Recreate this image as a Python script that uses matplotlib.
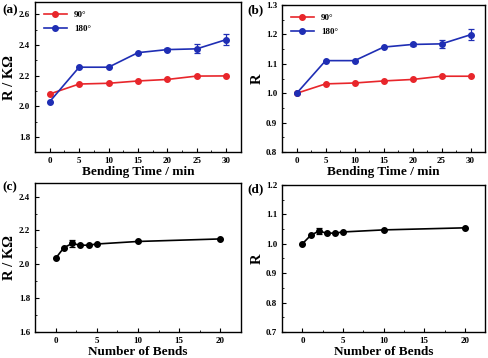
import matplotlib
matplotlib.use("Agg")
import matplotlib.pyplot as plt
from matplotlib.ticker import AutoMinorLocator

plt.rcParams['font.family'] = ['Liberation Serif', 'DejaVu Serif']
plt.rcParams['font.weight'] = 'bold'
plt.rcParams['axes.labelweight'] = 'bold'
plt.rcParams['axes.linewidth'] = 1.0

# bending time data
t = [0, 5, 10, 15, 20, 25, 30]
r90 = [2.08, 2.145, 2.15, 2.165, 2.175, 2.197, 2.198]
r180 = [2.03, 2.255, 2.255, 2.35, 2.37, 2.375, 2.435]
r180_err = [0, 0, 0, 0, 0.012, 0.03, 0.035]
n90 = [1.0, 1.032, 1.035, 1.042, 1.047, 1.058, 1.058]
n180 = [1.0, 1.111, 1.111, 1.157, 1.166, 1.168, 1.199]
n180_err = [0, 0, 0, 0, 0.006, 0.013, 0.018]

# number of bends data
bends = [0, 1, 2, 3, 4, 5, 10, 20]
rb = [2.035, 2.098, 2.123, 2.113, 2.113, 2.12, 2.135, 2.15]
rb_err = [0, 0, 0.02, 0, 0, 0, 0, 0]
nb = [1.0, 1.028, 1.043, 1.036, 1.036, 1.04, 1.047, 1.054]
nb_err = [0, 0, 0.01, 0, 0, 0, 0, 0]

red = '#e8262b'
blue = '#1f2eb4'

fig = plt.figure(figsize=(4.89, 3.58), dpi=100)
ax_a = fig.add_axes([0.0716, 0.575, 0.421, 0.419])
ax_b = fig.add_axes([0.577, 0.575, 0.415, 0.411])
ax_c = fig.add_axes([0.0716, 0.0726, 0.421, 0.416])
ax_d = fig.add_axes([0.577, 0.0726, 0.415, 0.411])


def style(ax):
    ax.tick_params(direction='in', labelsize=6.5, length=3, width=0.8)
    ax.tick_params(which='minor', direction='in', length=1.5, width=0.6)
    ax.xaxis.set_minor_locator(AutoMinorLocator(2))
    ax.yaxis.set_minor_locator(AutoMinorLocator(2))
    for lab in ax.get_xticklabels() + ax.get_yticklabels():
        lab.set_fontweight('bold')


def series(ax, x, y, err, color, label=None):
    if err is not None:
        ax.errorbar(x, y, yerr=err, fmt='none', ecolor=color, capsize=2,
                    elinewidth=0.9, capthick=0.9)
    ax.plot(x, y, color=color, lw=1.2, marker='o', ms=4,
            mfc=color, mec=color, label=label)


def labels(ax, xlabel, ylabel):
    ax.set_xlabel(xlabel, fontsize=9.5, labelpad=1)
    ax.set_ylabel(ylabel, fontsize=10.5, labelpad=2)


series(ax_a, t, r90, None, red, '90°')
series(ax_a, t, r180, r180_err, blue, '180°')
ax_a.set_xlim(-2.5, 32.5)
ax_a.set_ylim(1.7, 2.68)
ax_a.set_xticks(t)
ax_a.set_yticks([1.8, 2.0, 2.2, 2.4, 2.6])
labels(ax_a, 'Bending Time / min', 'R / KΩ')
ax_a.legend(loc='upper left', fontsize=6.5, frameon=False, handlelength=2.5,
            borderaxespad=0.6, labelspacing=0.6)

series(ax_b, t, n90, None, red, '90°')
series(ax_b, t, n180, n180_err, blue, '180°')
ax_b.set_xlim(-2.5, 32.5)
ax_b.set_ylim(0.8, 1.3)
ax_b.set_xticks(t)
ax_b.set_yticks([0.8, 0.9, 1.0, 1.1, 1.2, 1.3])
labels(ax_b, 'Bending Time / min', 'R')
ax_b.legend(loc='upper left', fontsize=6.5, frameon=False, handlelength=2.5,
            borderaxespad=0.6, labelspacing=0.6)

series(ax_c, bends, rb, rb_err, 'black')
ax_c.set_xlim(-2.5, 22.5)
ax_c.set_ylim(1.6, 2.48)
ax_c.set_xticks([0, 5, 10, 15, 20])
ax_c.set_yticks([1.6, 1.8, 2.0, 2.2, 2.4])
labels(ax_c, 'Number of Bends', 'R / KΩ')

series(ax_d, bends, nb, nb_err, 'black')
ax_d.set_xlim(-2.5, 22.5)
ax_d.set_ylim(0.7, 1.2)
ax_d.set_xticks([0, 5, 10, 15, 20])
ax_d.set_yticks([0.7, 0.8, 0.9, 1.0, 1.1, 1.2])
labels(ax_d, 'Number of Bends', 'R')

for ax in (ax_a, ax_b, ax_c, ax_d):
    style(ax)

fig.text(0.004, 0.972, '(a)', fontsize=9.5, fontweight='bold', va='center')
fig.text(0.505, 0.972, '(b)', fontsize=9.5, fontweight='bold', va='center')
fig.text(0.004, 0.478, '(c)', fontsize=9.5, fontweight='bold', va='center')
fig.text(0.505, 0.470, '(d)', fontsize=9.5, fontweight='bold', va='center')

fig.savefig('out.png', dpi=100)
